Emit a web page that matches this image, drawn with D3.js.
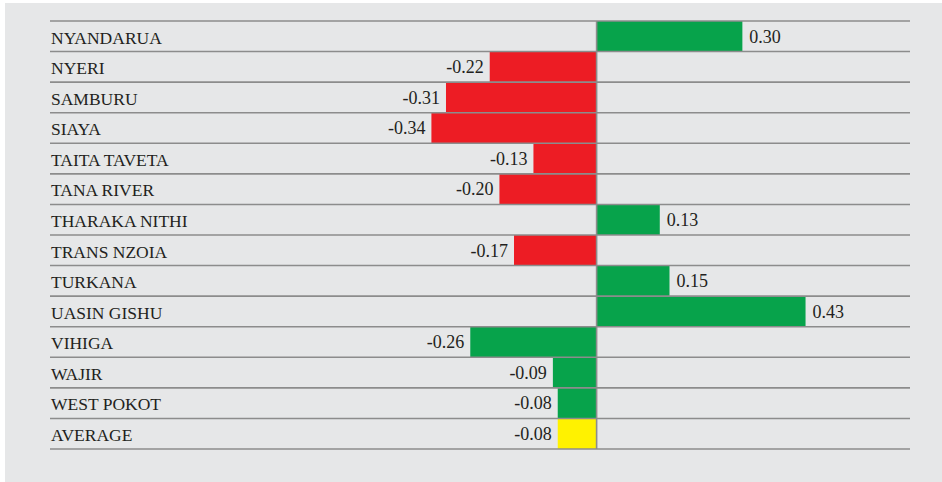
<!DOCTYPE html>
<html>
<head>
<meta charset="utf-8">
<script src="https://cdn.jsdelivr.net/npm/d3@7"></script>
<style>
  html, body { margin: 0; padding: 0; background: #ffffff; }
  svg { display: block; }
</style>
</head>
<body>
<script>
// Counties with their change index, in display order
const counties = [
  "NYANDARUA", "NYERI", "SAMBURU", "SIAYA", "TAITA TAVETA", "TANA RIVER",
  "THARAKA NITHI", "TRANS NZOIA", "TURKANA", "UASIN GISHU", "VIHIGA",
  "WAJIR", "WEST POKOT", "AVERAGE"
];
const values = [0.30, -0.22, -0.31, -0.34, -0.13, -0.20, 0.13, -0.17, 0.15, 0.43, -0.26, -0.09, -0.08, -0.08];
// Rating band for each county
const bands = ["good", "poor", "poor", "poor", "poor", "poor", "good", "poor", "good", "good", "good", "good", "good", "avg"];

const W = 942, H = 482;
const svg = d3.select("body").append("svg").attr("width", W).attr("height", H);

// grey panel
svg.append("rect").attr("x", 5).attr("y", 3).attr("width", W - 5).attr("height", H - 3)
  .attr("fill", "#e6e7e8");

const x = d3.scaleLinear().domain([-1.125, 0.645]).range([50, 910]);
const y = d3.scaleBand().domain(counties).range([21, 449]).padding(0);
const fill = d3.scaleOrdinal().domain(["good", "poor", "avg"]).range(["#07a34b", "#ed1c24", "#fff200"]);
// plain hyphen for negatives
const fmt = v => d3.format(".2f")(v).replace("\u2212", "-");

const rows = counties.map((c, i) => ({ name: c, value: values[i], band: bands[i] }));

// bars
svg.append("g").selectAll("rect").data(rows).join("rect")
  .attr("x", d => x(Math.min(0, d.value)))
  .attr("y", d => y(d.name))
  .attr("width", d => Math.abs(x(d.value) - x(0)))
  .attr("height", y.bandwidth())
  .attr("fill", d => fill(d.band));

// row rules
const ruleYs = counties.map(c => y(c)).concat([y.range()[1]]);
svg.append("g").selectAll("line").data(ruleYs).join("line")
  .attr("x1", x.range()[0]).attr("x2", x.range()[1])
  .attr("y1", d => d).attr("y2", d => d)
  .attr("stroke", "#8c8c8c").attr("stroke-width", 1.6);

// zero axis
svg.append("line")
  .attr("x1", x(0)).attr("x2", x(0))
  .attr("y1", y.range()[0]).attr("y2", y.range()[1])
  .attr("stroke", "#8c8c8c").attr("stroke-width", 1.6);

// county names
svg.append("g").selectAll("text").data(rows).join("text")
  .attr("x", 51)
  .attr("y", d => y(d.name) + 22.5)
  .attr("font-family", "'Liberation Serif', 'DejaVu Serif', serif")
  .attr("font-size", 17.5)
  .attr("fill", "#231f20")
  .text(d => d.name);

// value labels
svg.append("g").selectAll("text").data(rows).join("text")
  .attr("x", d => d.value < 0 ? x(d.value) - 6 : x(d.value) + 7)
  .attr("y", d => y(d.name) + 21.5)
  .attr("text-anchor", d => d.value < 0 ? "end" : "start")
  .attr("font-family", "'Liberation Serif', 'DejaVu Serif', serif")
  .attr("font-size", 18)
  .attr("fill", "#231f20")
  .text(d => fmt(d.value));
</script>
</body>
</html>
